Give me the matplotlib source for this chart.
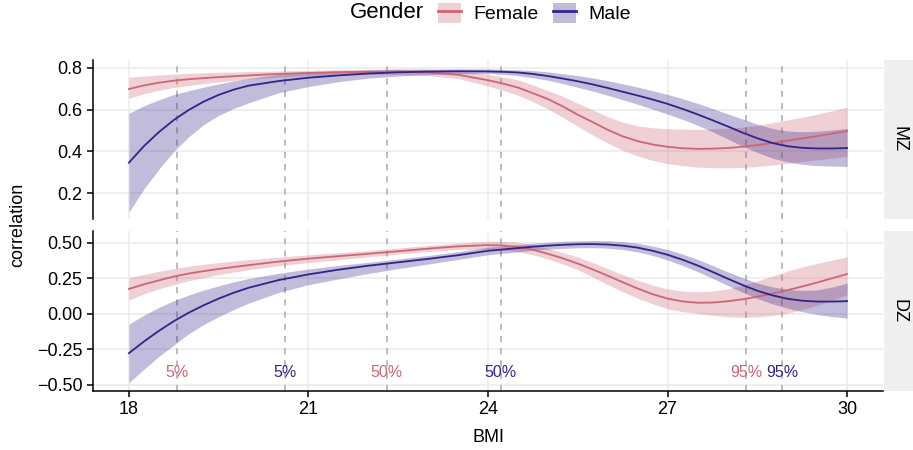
import matplotlib.pyplot as plt
from matplotlib.lines import Line2D
from matplotlib.patches import Patch

plt.rcParams['font.family'] = ['Liberation Sans', 'DejaVu Sans']

bmi = [18, 18.25, 18.5, 18.75, 19, 19.25, 19.5, 19.75, 20,
       20.5, 21, 21.5, 22, 22.5, 23, 23.5, 24,
       24.25, 24.5, 24.75, 25, 25.25, 25.5, 25.75, 26, 26.25, 26.5, 26.75, 27,
       27.25, 27.5, 27.75, 28, 28.25, 28.5, 28.75, 29, 29.25, 29.5, 29.75, 30]

# MZ twin correlations (estimate, lower, upper)
mz_female = [0.698, 0.715, 0.728, 0.738, 0.745, 0.750, 0.755, 0.759, 0.763,
             0.770, 0.775, 0.778, 0.780, 0.781, 0.777, 0.766, 0.740,
             0.724, 0.705, 0.678, 0.650, 0.615, 0.575, 0.540, 0.503, 0.472, 0.449, 0.433, 0.422,
             0.415, 0.412, 0.413, 0.416, 0.422, 0.430, 0.440, 0.451, 0.462, 0.473, 0.485, 0.497]
mz_female_lo = [0.654, 0.675, 0.692, 0.705, 0.715, 0.724, 0.732, 0.739, 0.745,
                0.755, 0.762, 0.766, 0.768, 0.768, 0.762, 0.748, 0.712,
                0.692, 0.668, 0.638, 0.603, 0.563, 0.520, 0.478, 0.440, 0.405, 0.378, 0.357, 0.342,
                0.332, 0.325, 0.322, 0.321, 0.323, 0.328, 0.335, 0.343, 0.352, 0.360, 0.368, 0.376]
mz_female_hi = [0.754, 0.760, 0.765, 0.769, 0.773, 0.776, 0.778, 0.779, 0.781,
                0.784, 0.787, 0.790, 0.792, 0.794, 0.792, 0.786, 0.768,
                0.756, 0.742, 0.718, 0.690, 0.663, 0.630, 0.598, 0.566, 0.540, 0.522, 0.513, 0.508,
                0.506, 0.505, 0.507, 0.510, 0.516, 0.525, 0.537, 0.550, 0.563, 0.578, 0.594, 0.610]
mz_male = [0.346, 0.425, 0.492, 0.550, 0.598, 0.638, 0.670, 0.695, 0.714,
           0.736, 0.752, 0.763, 0.772, 0.778, 0.781, 0.783, 0.782,
           0.780, 0.777, 0.770, 0.760, 0.748, 0.735, 0.720, 0.703, 0.685, 0.667, 0.648, 0.627,
           0.603, 0.577, 0.549, 0.520, 0.490, 0.463, 0.440, 0.425, 0.417, 0.414, 0.414, 0.416]
mz_male_lo = [0.110, 0.220, 0.315, 0.400, 0.470, 0.528, 0.572, 0.605, 0.632,
              0.680, 0.710, 0.733, 0.750, 0.760, 0.767, 0.771, 0.772,
              0.768, 0.762, 0.752, 0.740, 0.724, 0.706, 0.688, 0.668, 0.647, 0.625, 0.602, 0.578,
              0.553, 0.525, 0.494, 0.460, 0.425, 0.395, 0.368, 0.350, 0.338, 0.332, 0.330, 0.328]
mz_male_hi = [0.582, 0.618, 0.646, 0.672, 0.690, 0.707, 0.722, 0.737, 0.748,
              0.768, 0.778, 0.785, 0.789, 0.792, 0.793, 0.794, 0.794,
              0.792, 0.790, 0.786, 0.780, 0.771, 0.762, 0.751, 0.738, 0.723, 0.707, 0.690, 0.672,
              0.652, 0.630, 0.605, 0.580, 0.555, 0.530, 0.510, 0.497, 0.494, 0.496, 0.502, 0.510]

# DZ twin correlations (estimate, lower, upper)
dz_female = [0.175, 0.207, 0.235, 0.262, 0.283, 0.300, 0.315, 0.329, 0.342,
             0.367, 0.388, 0.405, 0.422, 0.440, 0.458, 0.474, 0.483,
             0.480, 0.470, 0.450, 0.422, 0.390, 0.353, 0.312, 0.268, 0.222, 0.178, 0.138, 0.107,
             0.087, 0.078, 0.079, 0.088, 0.102, 0.120, 0.142, 0.166, 0.192, 0.220, 0.250, 0.280]
dz_female_lo = [0.097, 0.140, 0.175, 0.205, 0.232, 0.255, 0.275, 0.293, 0.310,
                0.338, 0.360, 0.380, 0.400, 0.420, 0.438, 0.452, 0.455,
                0.450, 0.437, 0.415, 0.385, 0.350, 0.310, 0.258, 0.205, 0.155, 0.110, 0.070, 0.035,
                0.015, 0.002, -0.010, -0.020, -0.025, -0.022, -0.012, 0.003, 0.030, 0.060, 0.095, 0.135]
dz_female_hi = [0.254, 0.278, 0.298, 0.318, 0.335, 0.348, 0.360, 0.371, 0.381,
                0.398, 0.415, 0.430, 0.445, 0.462, 0.480, 0.497, 0.510,
                0.510, 0.503, 0.485, 0.460, 0.430, 0.400, 0.360, 0.318, 0.276, 0.236, 0.202, 0.175,
                0.160, 0.155, 0.160, 0.175, 0.200, 0.230, 0.265, 0.300, 0.330, 0.355, 0.378, 0.400]
dz_male = [-0.277, -0.195, -0.120, -0.052, 0.008, 0.060, 0.107, 0.148, 0.183,
           0.237, 0.277, 0.310, 0.338, 0.362, 0.386, 0.412, 0.443,
           0.452, 0.462, 0.472, 0.479, 0.485, 0.489, 0.490, 0.487, 0.479, 0.465, 0.443, 0.415,
           0.380, 0.340, 0.295, 0.248, 0.203, 0.162, 0.130, 0.106, 0.092, 0.086, 0.086, 0.089]
dz_male_lo = [-0.484, -0.390, -0.300, -0.220, -0.140, -0.075, -0.020, 0.030, 0.075,
              0.150, 0.205, 0.245, 0.283, 0.318, 0.350, 0.382, 0.415,
              0.425, 0.436, 0.446, 0.454, 0.460, 0.464, 0.465, 0.461, 0.452, 0.435, 0.410, 0.378,
              0.340, 0.297, 0.250, 0.200, 0.152, 0.108, 0.070, 0.040, 0.015, -0.005, -0.020, -0.030]
dz_male_hi = [-0.073, -0.010, 0.045, 0.092, 0.132, 0.167, 0.197, 0.224, 0.248,
              0.285, 0.315, 0.340, 0.362, 0.385, 0.410, 0.437, 0.468,
              0.477, 0.486, 0.496, 0.503, 0.509, 0.513, 0.515, 0.514, 0.508, 0.496, 0.476, 0.452,
              0.420, 0.383, 0.340, 0.296, 0.254, 0.216, 0.190, 0.172, 0.165, 0.168, 0.188, 0.215]

# BMI percentiles per gender
pct_labels = ['5%', '50%', '95%']
pct_female = [18.81, 22.31, 28.31]
pct_male = [20.60, 24.21, 28.91]

c_female = '#CC6677'
c_male = '#332288'
grid_c = '#EBEBEB'

fig = plt.figure(figsize=(9.13, 4.5), dpi=100)
ax_mz = fig.add_axes([93 / 913, 1 - 219 / 450, 790 / 913, 159.5 / 450])
ax_dz = fig.add_axes([93 / 913, 1 - 390.5 / 450, 790 / 913, 159.5 / 450])

panels = [
    (ax_mz, 'MZ', mz_female, mz_female_lo, mz_female_hi, mz_male, mz_male_lo, mz_male_hi),
    (ax_dz, 'DZ', dz_female, dz_female_lo, dz_female_hi, dz_male, dz_male_lo, dz_male_hi),
]

for ax, name, f, f_lo, f_hi, m, m_lo, m_hi in panels:
    ax.set_xlim(17.4, 30.6)
    ax.set_xticks([18, 21, 24, 27, 30])
    ax.grid(True, color=grid_c, lw=1.1, zorder=0)
    ax.set_axisbelow(True)
    for p in pct_female + pct_male:
        ax.axvline(p, color='#AAAAAA', lw=1.1, ls=(0, (4, 4)), zorder=1)
    ax.fill_between(bmi, f_lo, f_hi, color=c_female, alpha=0.3, lw=0, zorder=2)
    ax.fill_between(bmi, m_lo, m_hi, color=c_male, alpha=0.3, lw=0, zorder=2)
    ax.plot(bmi, f, color=c_female, lw=1.3, zorder=3)
    ax.plot(bmi, m, color=c_male, lw=1.3, zorder=3)
    for side in ['top', 'right']:
        ax.spines[side].set_visible(False)
    ax.spines['left'].set_linewidth(1.1)
    ax.spines['bottom'].set_linewidth(1.1)
    ax.tick_params(labelsize=13, length=4, width=1.1, color='black', labelcolor='black')

    # facet strip on the right
    box = ax.get_position()
    strip = fig.add_axes([884 / 913, box.y0, 30 / 913, box.height])
    strip.set_facecolor('#EFEFEF')
    strip.set_xticks([])
    strip.set_yticks([])
    for s in strip.spines.values():
        s.set_visible(False)
    strip.text(0.5, 0.5, name, rotation=-90, ha='center', va='center',
               fontsize=13, transform=strip.transAxes)

ax_mz.set_ylim(0.077, 0.839)
ax_mz.set_yticks([0.2, 0.4, 0.6, 0.8])
ax_mz.set_yticklabels(['0.2', '0.4', '0.6', '0.8'])
ax_mz.spines['bottom'].set_visible(False)
ax_mz.tick_params(axis='x', length=0, labelbottom=False)

ax_dz.set_ylim(-0.539, 0.582)
ax_dz.set_yticks([-0.5, -0.25, 0, 0.25, 0.5])
ax_dz.set_yticklabels(['\u22120.50', '\u22120.25', '0.00', '0.25', '0.50'])

for lab, xf, xm in zip(pct_labels, pct_female, pct_male):
    ax_dz.text(xf, -0.41, lab, color=c_female, fontsize=11.5, ha='center', va='center', zorder=4)
    ax_dz.text(xm, -0.41, lab, color=c_male, fontsize=11.5, ha='center', va='center', zorder=4)

fig.text(488 / 913, 1 - 437 / 450, 'BMI', ha='center', va='center', fontsize=13)
fig.text(18 / 913, 1 - 225 / 450, 'correlation', rotation=90, ha='center', va='center', fontsize=13)

# legend across the top
fig.text(350 / 913, 1 - 13 / 450, 'Gender', ha='left', va='center', fontsize=16)
handles = [
    (Patch(facecolor=c_female, alpha=0.3, lw=0), Line2D([], [], color=c_female, lw=2)),
    (Patch(facecolor=c_male, alpha=0.3, lw=0), Line2D([], [], color=c_male, lw=2)),
]
fig.legend(handles, ['Female', 'Male'], loc='center left', bbox_to_anchor=(438 / 913, 1 - 13 / 450),
           ncol=2, frameon=False, fontsize=14, handlelength=1.2, handleheight=1.2,
           handletextpad=0.63, columnspacing=0.72, borderpad=0, borderaxespad=0)

fig.savefig('out.png', dpi=100)
